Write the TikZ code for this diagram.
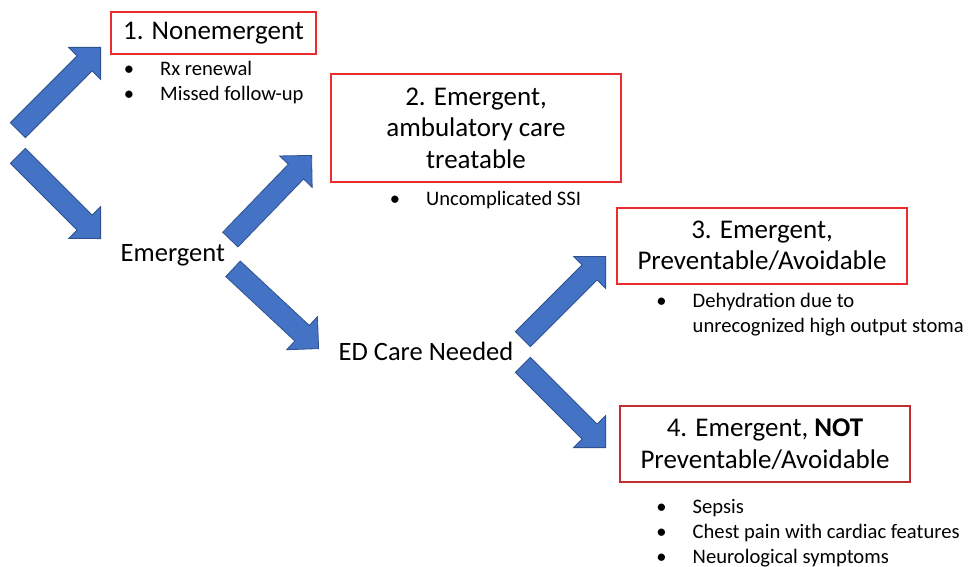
\documentclass[tikz,border=0pt]{standalone}
\usepackage{fontspec}
\setmainfont{Carlito}
\usetikzlibrary{shapes.arrows}
\definecolor{arrowblue}{RGB}{68,114,196}
\definecolor{arrowedge}{RGB}{47,82,143}
\definecolor{boxred}{RGB}{235,45,45}
\definecolor{boxdarkred}{RGB}{195,45,45}
\newcommand{\bitem}{\llap{\textbullet\hspace{26pt}}}
\begin{document}
\begin{tikzpicture}[x=1pt,y=-1pt,
  blockarrow/.style={single arrow, draw=arrowedge, fill=arrowblue, line width=0.8pt,
    inner sep=10.2pt, minimum width=45pt, minimum height=117pt,
    single arrow head extend=12pt, anchor=tip, text height=0pt, text depth=0pt},
  catbox/.style={draw=boxred, line width=1.2pt, align=center, inner sep=0pt,
    font=\fontsize{27}{31.5}\selectfont},
  biglabel/.style={anchor=base west, inner sep=0pt, font=\fontsize{26.5}{31}\selectfont},
  bul/.style={anchor=base west, inner sep=0pt, font=\fontsize{20.6}{25}\selectfont}
]
\fill[white] (0,0) rectangle (970,567);
\useasboundingbox (0,0) rectangle (970,567);

% boxes
\node[catbox, minimum width=205pt, minimum height=42pt] (n1) at (213.5,33) {1. Nonemergent};
\node[catbox, minimum width=290pt, minimum height=108pt] (n2) at (476,128) {2. Emergent,\\ambulatory care\\treatable};
\node[catbox, minimum width=290pt, minimum height=76pt] (n3) at (762,246) {3. Emergent,\\Preventable/Avoidable};
\node[catbox, draw=boxdarkred, minimum width=290pt, minimum height=76pt] (n4) at (765,444) {4. Emergent, \textbf{NOT}\\Preventable/Avoidable};

% intermediate labels
\node[biglabel] (em) at (120.5,261.7) {Emergent};
\node[biglabel] (ed) at (338.5,360.7) {ED Care Needed};

% block arrows
\node[blockarrow, rotate=45] (a1) at (101,47) {};
\node[blockarrow, rotate=-45] (a2) at (101,239) {};
\node[blockarrow, rotate=46] (a3) at (312,155) {};
\node[blockarrow, rotate=-43] (a4) at (319,349) {};
\node[blockarrow, rotate=45] (a5) at (606,256) {};
\node[blockarrow, rotate=-45] (a6) at (606,448) {};

% bullet lists
\node[bul] (b1a) at (160,76) {\bitem Rx renewal};
\node[bul] (b1b) at (160,101) {\bitem Missed follow-up};
\node[bul] (b2a) at (426,205) {\bitem Uncomplicated SSI};
\node[bul] (b3a) at (692.5,307) {\bitem Dehydration due to};
\node[bul] (b3b) at (692.5,332) {unrecognized high output stoma};
\node[bul] (b4a) at (692.5,513) {\bitem Sepsis};
\node[bul] (b4b) at (692.5,538) {\bitem Chest pain with cardiac features};
\node[bul] (b4c) at (692.5,563) {\bitem Neurological symptoms};
\end{tikzpicture}
\end{document}
